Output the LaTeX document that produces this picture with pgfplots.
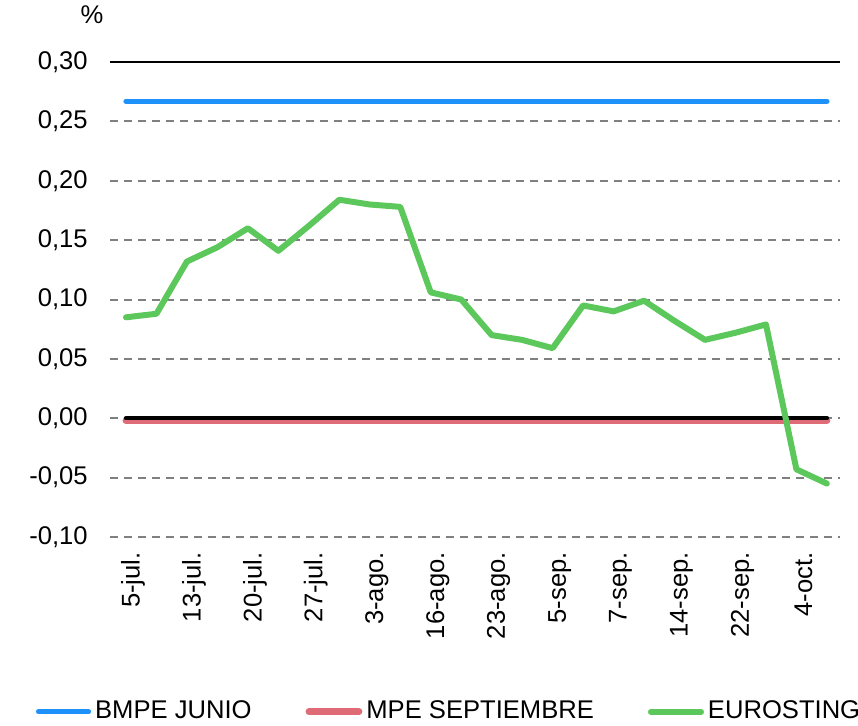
\documentclass[border=0pt]{standalone}
\usepackage{pgfplots}
\pgfplotsset{compat=1.18}
\usepackage{fontspec}
\setmainfont{Liberation Sans}
\definecolor{cblue}{RGB}{31,145,250}
\definecolor{cred}{RGB}{222,107,118}
\definecolor{cgreen}{RGB}{92,200,92}
\definecolor{cgrid}{RGB}{128,128,128}
\begin{document}
\fontsize{12.8bp}{15bp}\selectfont
\begin{tikzpicture}
\path[use as bounding box] (0bp,0bp) rectangle (429bp,363bp);
\begin{axis}[
  at={(55bp,94.5bp)}, anchor=south west,
  scale only axis,
  width=365bp, height=237.5bp,
  xmin=-0.525, xmax=23.43,
  ymin=-0.1, ymax=0.3,
  axis line style={draw=none},
  tick style={draw=none},
  ytick={-0.1,-0.05,0,0.05,0.1,0.15,0.2,0.25},
  yticklabels={{-0,10},{-0,05},{0,00},{0,05},{0,10},{0,15},{0,20},{0,25}},
  extra y ticks={0.3},
  extra y tick labels={0{,}30},
  extra y tick style={grid style={solid, black, line width=1bp}},
  ymajorgrids,
  grid style={dashed, cgrid, line width=1bp, dash pattern=on 4bp off 3bp},
  yticklabel style={inner sep=0pt, anchor=east, xshift=-11bp},
  xtick={0,2,4,6,8,10,12,14,16,18,20,22},
  xticklabels={5-jul.,13-jul.,20-jul.,27-jul.,3-ago.,16-ago.,23-ago.,5-sep.,7-sep.,14-sep.,22-sep.,4-oct.},
  xticklabel style={rotate=90, anchor=east, inner sep=0pt, yshift=-3.5bp},
  xticklabel shift=7.5bp,
  ylabel={\%},
  ylabel style={at={(rel axis cs:0,1)}, rotate=-90, anchor=south, xshift=-9bp, yshift=19bp, inner sep=0pt},
  legend columns=3,
  legend style={draw=none, fill=none, inner sep=0pt, at={(rel axis cs:0.4658,-0.368)}, anchor=center,
    /tikz/every even column/.append style={column sep=25bp},
    nodes={inner xsep=2bp}},
  legend image code/.code={\draw[#1] (0bp,0bp) -- (25bp,0bp);},
  every axis plot/.append style={line cap=round, line join=round},
]
\addplot[cblue, line width=2.6bp] coordinates {(0,0.267) (23,0.267)};
\addlegendentry{BMPE JUNIO}
\addplot[cred, line width=3.4bp] coordinates {(0,-0.002) (23,-0.002)};
\addlegendentry{MPE SEPTIEMBRE}
\addplot[black, line width=2.2bp, forget plot] coordinates {(0,0) (23,0)};
\addplot[cgreen, line width=3bp] coordinates {
(0,0.085) (1,0.088) (2,0.132) (3,0.144) (4,0.160) (5,0.141) (6,0.162) (7,0.184)
(8,0.180) (9,0.178) (10,0.106) (11,0.100) (12,0.070) (13,0.066) (14,0.059) (15,0.095)
(16,0.090) (17,0.099) (18,0.082) (19,0.066) (20,0.072) (21,0.079) (22,-0.043) (23,-0.055)};
\addlegendentry{EUROSTING}
\end{axis}
\end{tikzpicture}
\end{document}
